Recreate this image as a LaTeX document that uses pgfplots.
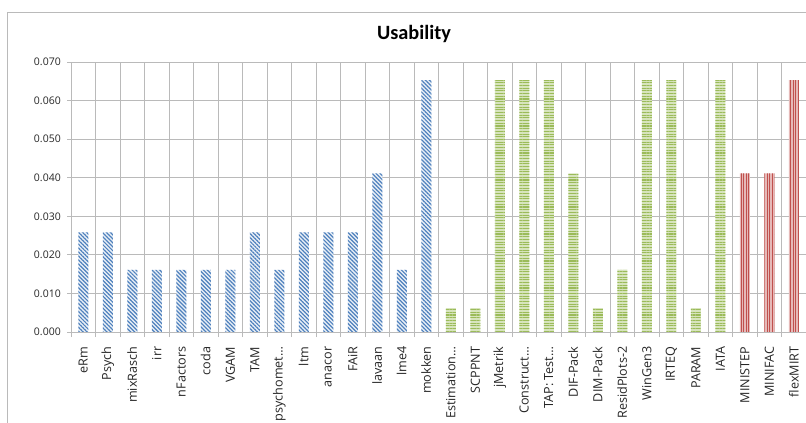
\documentclass[border=0pt]{standalone}
\usepackage{pgfplots}
\pgfplotsset{compat=1.18}
\usepackage{pgfplotstable}
\usepackage{fontspec}
\setmainfont{Open Sans}
\newfontfamily\calib{Carlito}
\usetikzlibrary{patterns.meta}

\definecolor{blueC}{HTML}{4F81BD}
\definecolor{greenC}{HTML}{9BBB59}
\definecolor{greenL}{HTML}{D7E4BD}
\definecolor{redC}{HTML}{C0504D}
\definecolor{redL}{HTML}{E6B9B8}
\definecolor{gridC}{HTML}{BABABA}

% R packages
\pgfplotstableread{
x y
0 0.0258
1 0.0258
2 0.0161
3 0.0161
4 0.0161
5 0.0161
6 0.0161
7 0.0258
8 0.0161
9 0.0258
10 0.0258
11 0.0258
12 0.0411
13 0.0161
14 0.0653
}\rpkgs
% standalone programs
\pgfplotstableread{
x y
15 0.0062
16 0.0062
17 0.0653
18 0.0653
19 0.0653
20 0.0411
21 0.0062
22 0.0161
23 0.0653
24 0.0653
25 0.0062
26 0.0653
}\progs
% commercial
\pgfplotstableread{
x y
27 0.0411
28 0.0411
29 0.0653
}\comm

\begin{document}
\begin{tikzpicture}
\useasboundingbox (0,0) rectangle (806bp,423bp);
\draw[gridC, line width=1bp] (7bp,0) -- (7bp,410.5bp) -- (810bp,410.5bp);
\node[font=\calib\bfseries\fontsize{20.3bp}{24bp}\selectfont, anchor=base] at (414bp,383bp) {Usability};
\begin{axis}[
  at={(71bp,91bp)}, anchor=south west,
  scale only axis, width=735bp, height=270bp,
  xmin=-0.5, xmax=29.5, ymin=0, ymax=0.07,
  axis lines*=left,
  axis line style={gridC, line width=1bp},
  xtick={0,...,29},
  xticklabels={eRm,Psych,mixRasch,irr,nFactors,coda,VGAM,TAM,psychomet…,ltm,anacor,FAiR,lavaan,lme4,mokken,Estimation…,SCPPNT,jMetrik,Construct…,TAP: Test…,DIF-Pack,DIM-Pack,ResidPlots-2,WinGen3,IRTEQ,PARAM,IATA,MINISTEP,MINIFAC,flexMIRT},
  minor xtick={-0.5,0.5,...,29.5},
  ytick={0,0.01,0.02,0.03,0.04,0.05,0.06,0.07},
  yticklabel style={/pgf/number format/fixed, /pgf/number format/fixed zerofill, /pgf/number format/precision=3, /pgf/number format/assume math mode=true, inner sep=0pt},
  scaled y ticks=false,
  tick align=outside,
  major tick length=4bp, minor tick length=5bp,
  major x tick style={draw=none},
  tick style={gridC, line width=1bp},
  xminorgrids, ymajorgrids,
  grid style={gridC, line width=1bp},
  minor grid style={gridC, line width=1bp},
  ticklabel style={font=\fontsize{10.5bp}{12bp}\selectfont, text=black!85},
  xticklabel style={rotate=90, anchor=east, inner sep=0pt, font=\fontsize{12.6bp}{15bp}\selectfont},
  xticklabel shift=10.5bp,
  yticklabel shift=6bp,
]
\addplot[ybar, bar width=10bp, draw=none, fill=blueC!12,
  postaction={pattern color=blueC, pattern={Lines[angle=-45,distance=2.8bp,line width=1.2bp]}}]
  table[x=x,y=y] {\rpkgs};
\addplot[ybar, bar width=10bp, draw=none, fill=greenL,
  postaction={pattern color=greenC, pattern={Lines[angle=0,distance=2.7bp,line width=1.1bp]}}]
  table[x=x,y=y] {\progs};
\addplot[ybar, bar width=10bp, draw=none, fill=redL,
  postaction={pattern color=redC, pattern={Lines[angle=90,distance=2.6bp,line width=0.9bp]}}]
  table[x=x,y=y] {\comm};
\end{axis}
\end{tikzpicture}
\end{document}
